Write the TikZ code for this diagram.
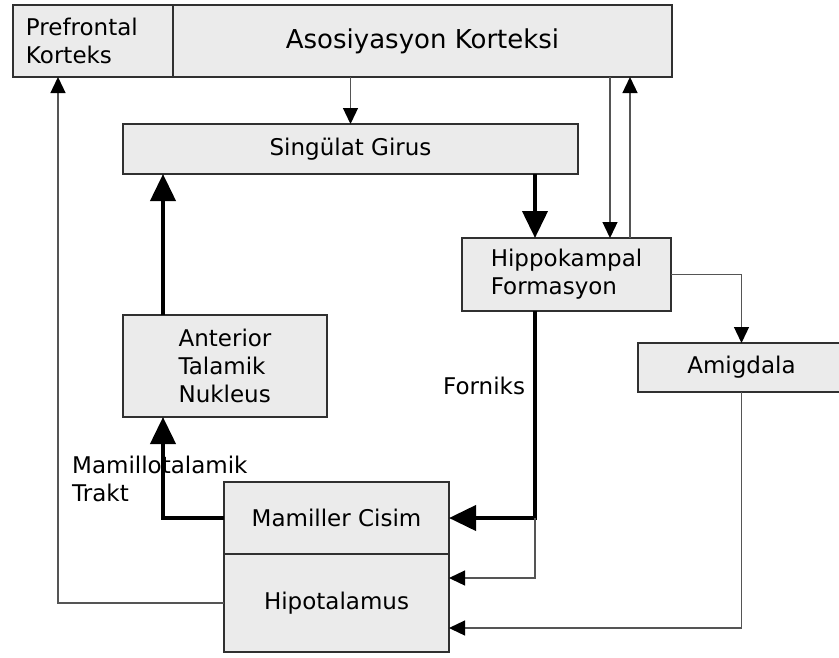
\documentclass[tikz,border=0pt]{standalone}
\usepackage{fontspec}
\setmainfont{DejaVu Sans}
\usetikzlibrary{arrows.meta,positioning}
\definecolor{boxfill}{HTML}{EBEBEB}
\definecolor{boxline}{HTML}{303030}
\definecolor{linkgray}{HTML}{555555}

\begin{document}
\begin{tikzpicture}[
  x=1pt, y=-1pt,
  font=\fontsize{23}{28}\selectfont,
  box/.style={rectangle, draw=boxline, fill=boxfill, line width=1.6pt, inner sep=0pt, outer sep=0pt, anchor=north west},
  tag/.style={align=left, inner sep=0pt},
  link/.style={-{Triangle[length=16pt,width=15pt,black]}, line width=1.3pt, draw=linkgray},
  tract/.style={-{Triangle[length=27pt,width=25pt]}, line width=4pt, draw=black}
]
\useasboundingbox (0,0) rectangle (839,657);

% cortex row
\node[box, minimum width=160pt, minimum height=72pt, text width=134pt, align=left] (pfc) at (13,5) {Prefrontal\\Korteks};
\node[box, minimum width=499pt, minimum height=72pt, font=\fontsize{26}{30}\selectfont] (aso) at (173,5) {Asosiyasyon Korteksi\hspace{22pt}};
\node[box, minimum width=455pt, minimum height=50pt] (sg) at (123,124) {Singülat Girus};

% middle
\node[box, minimum width=209pt, minimum height=73pt, align=left] (hip) at (462,238) {Hippokampal\\Formasyon};
\node[box, minimum width=207pt, minimum height=49pt] (amy) at (638,343) {Amigdala};
\node[box, minimum width=204pt, minimum height=102pt, align=left] (atn) at (123,315) {Anterior\\Talamik\\Nukleus};

% hypothalamus block
\node[box, minimum width=225pt, minimum height=72pt] (mb) at (224,482) {Mamiller Cisim};
\node[box, minimum width=225pt, minimum height=98pt, below=0pt of mb] (hyp) {Hipotalamus};

\node[tag, anchor=north west] (mtt) at (72,456) {Mamillotalamik\\Trakt};
\node[tag, anchor=base west] (forniks) at (443,394) {Forniks};

% lanes
\coordinate (fx) at (535,0);
\coordinate (ax) at (610,0);
\coordinate (bx) at (630,0);
\coordinate (mx) at (163,0);
\coordinate (px) at (58,0);
\coordinate (h1) at ([yshift=-24pt]hyp.north east);
\coordinate (h2) at ([yshift=24pt]hyp.south east);

\draw[link] (sg.north |- aso.south) -- (sg.north);
\draw[tract] (sg.south -| fx) -- (hip.north -| fx);
\draw[link] (aso.south -| ax) -- (hip.north -| ax);
\draw[link] (hip.north -| bx) -- (aso.south -| bx);
\draw[link] (hip.east) -| (amy.north);
\draw[tract] (hip.south -| fx) |- (mb.east);
\draw[link] (mb.east -| fx) |- (h1);
\draw[link] (amy.south) |- (h2);
\draw[tract] (atn.north -| mx) -- (sg.south -| mx);
\draw[tract] (mb.west) -| (atn.south -| mx);
\draw[link] (hyp.west) -| (pfc.south -| px);
\end{tikzpicture}
\end{document}
